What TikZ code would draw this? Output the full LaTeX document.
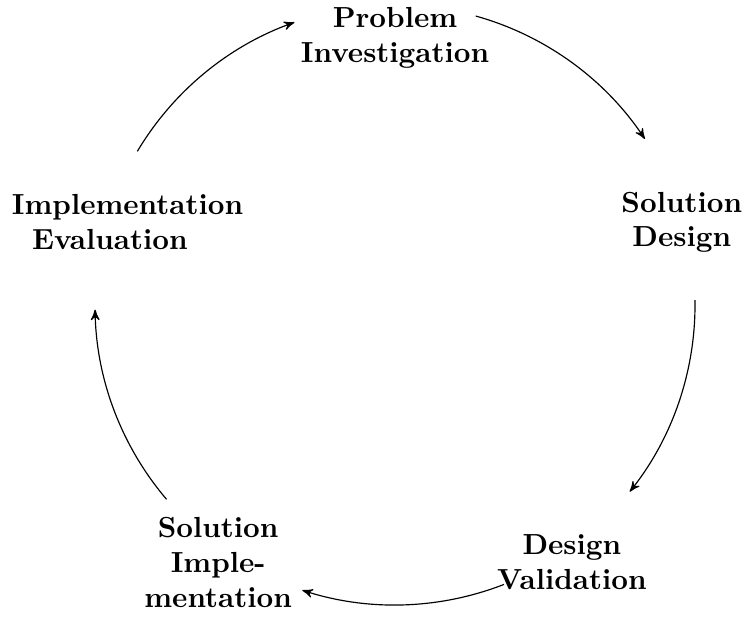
\documentclass[tikz,border=0pt]{standalone}
\usetikzlibrary{arrows}

\tikzset{
  stage/.style={font=\bfseries, text width=2.37cm, align=center, inner sep=0pt},
  cyc/.style={->, >=stealth'},
}

\begin{document}
\begin{tikzpicture}
      \useasboundingbox (-4.78,-3.82) rectangle (4.235,3.69);
      \coordinate (c) at (0,0);
      \node[stage] (pi) at (0,3.23) {Problem Investigation};
      \node[stage] (sd) at (3.47,1.0) {Solution Design};
      \node[stage] (dv) at (2.14,-3.11) {Design Validation};
      \node[stage, text width=1.85cm] (si) at (-2.14,-3.12) {Solution Implementation};
      \node[stage] (ie) at (-3.45,1.0) {Implementation Evaluation};
      % arcs of the cycle, round c
      \draw[cyc] ([shift={(74.4:3.63)}]c) arc (74.4:33.6:3.63);
      \draw[cyc] ([shift={(0.9:3.63)}]c) arc (0.9:-38.5:3.63);
      \draw[cyc] ([shift={(-68.7:3.63)}]c) arc (-68.7:-108:3.63);
      \draw[cyc] ([shift={(220.4:3.63)}]c) arc (220.4:180.9:3.63);
      \draw[cyc] ([shift={(149.2:3.63)}]c) arc (149.2:109.6:3.63);
    \end{tikzpicture}
\end{document}
